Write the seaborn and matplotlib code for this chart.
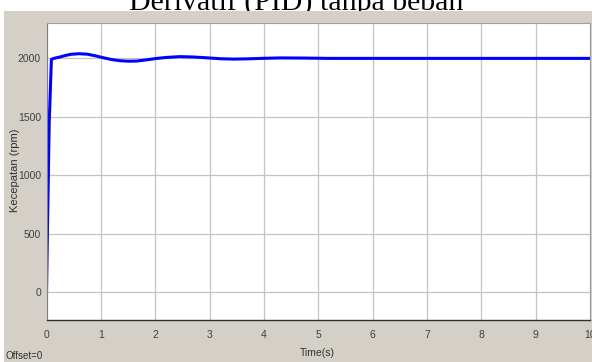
import matplotlib
matplotlib.use("Agg")
import matplotlib.pyplot as plt
from matplotlib.patches import Rectangle
import seaborn as sns
import pandas as pd

t = [0, 0.02, 0.05, 0.09, 0.15, 0.25, 0.35, 0.45, 0.6, 0.75, 0.9, 1.05, 1.2, 1.35,
     1.5, 1.65, 1.8, 2.0, 2.2, 2.45, 2.7, 2.95, 3.2, 3.45, 3.7, 3.95, 4.3, 4.7,
     5.2, 6, 7, 8, 9, 10]
speed = [0, 600, 1450, 1992, 2002, 2012, 2025, 2035, 2040, 2036, 2022, 2005, 1990, 1980,
         1976, 1977, 1985, 1998, 2008, 2015, 2012, 2005, 1997, 1994, 1996, 2000, 2004, 2003,
         2000, 2000, 2000, 2000, 2000, 2000]
xticks = list(range(0, 11))
yticks = [0, 500, 1000, 1500, 2000]

df = pd.DataFrame({"t": t, "speed": speed})

sns.set_style("white")
fig = plt.figure(figsize=(5.92, 3.62), dpi=100)
fig.patch.set_facecolor("white")

fig.text(0.5, 1 - 10.5 / 362, "Derivatif (PID) tanpa beban", ha="center", va="baseline",
         fontsize=21.5, family="Liberation Serif", color="black", zorder=-2)
fig.patches.append(Rectangle((4 / 592, 0), 1, 1 - 10.5 / 362, transform=fig.transFigure,
                             facecolor="#d4d0c8", edgecolor="none", zorder=-1))

ax = fig.add_axes([46.5 / 592, 42 / 362, (590 - 46.5) / 592, (320 - 23) / 362])
ax.set_facecolor("white")
sns.lineplot(data=df, x="t", y="speed", ax=ax, color="#0000ff", linewidth=2.2)

ax.set_xlim(0, 10)
ax.set_ylim(-240, 2303)
ax.set_xticks(xticks)
ax.set_yticks(yticks)
ax.grid(True, color="#c4c4c4", linewidth=0.9)
ax.set_axisbelow(True)
for s in ["top", "right"]:
    ax.spines[s].set_color("#a0a0a0")
    ax.spines[s].set_linewidth(0.8)
ax.spines["left"].set_color("#808080")
ax.spines["bottom"].set_color("#303030")
ax.spines["left"].set_linewidth(0.8)
ax.spines["bottom"].set_linewidth(1.0)
ax.tick_params(axis="both", labelsize=7.5, colors="#404040", length=3, width=0.6, direction="in")
ax.tick_params(axis="x", pad=7)
ax.tick_params(axis="y", pad=4)
for lbl in ax.get_xticklabels() + ax.get_yticklabels():
    lbl.set_family("Liberation Sans")
    lbl.set_stretch("condensed")
ax.set_xlabel("")
ax.set_ylabel("")

fig.text(15 / 592, 1 - 170 / 362, "Kecepatan (rpm)", ha="center", va="center", rotation=90,
         fontsize=8, family="Liberation Sans", color="#303030")
fig.text(317 / 592, 1 - 353 / 362, "Time(s)", ha="center", va="center", fontsize=7.5,
         family="Liberation Sans", color="#303030")
fig.text(6 / 592, 1 - 356 / 362, "Offset=0", ha="left", va="center", fontsize=7,
         family="Liberation Sans", color="#303030")

fig.savefig("out.png", dpi=100, facecolor=fig.get_facecolor())
